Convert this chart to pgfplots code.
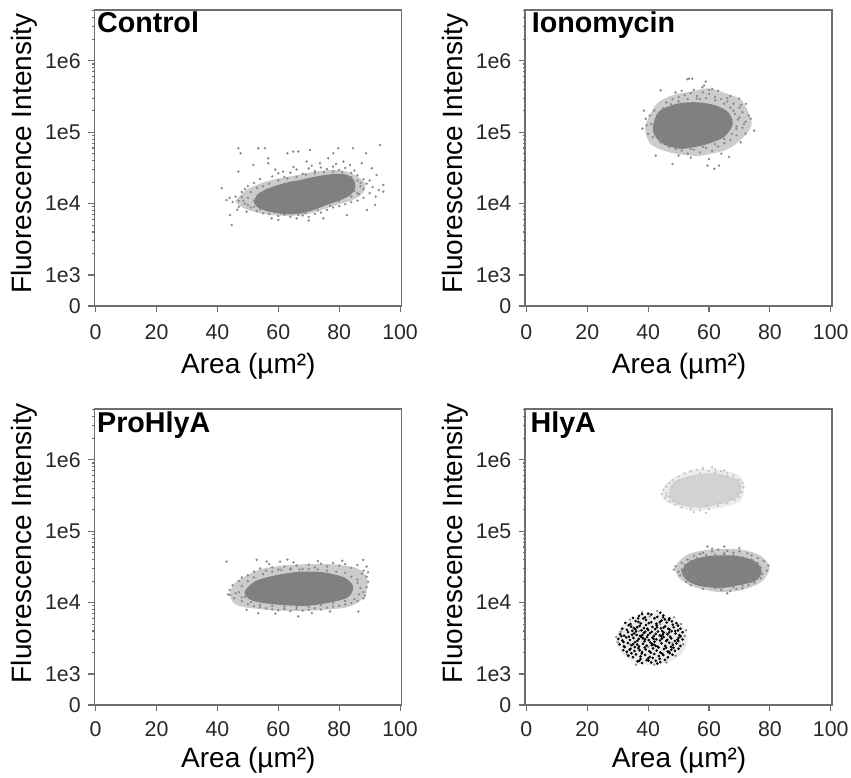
\documentclass[border=0pt]{standalone}
\usepackage{fontspec}
\setmainfont{Liberation Sans}
\usepackage{pgfplots}
\pgfplotsset{compat=1.18}

\definecolor{axisgray}{RGB}{110,110,110}
\definecolor{textgray}{RGB}{40,40,40}
\definecolor{dotgray}{RGB}{140,140,140}
\definecolor{coregray}{RGB}{128,128,128}
\definecolor{palegray}{RGB}{210,210,210}
\definecolor{paledot}{RGB}{198,198,198}

\pgfplotsset{
  mypanel/.style={
    scale only axis, width=230.25pt, height=222pt,
    xmin=-0.46, xmax=100.4,
    ymin=368, ymax=5.13e6,
    xtick={0,20,40,60,80,100},
    xticklabels={0,20,40,60,80,100},
    ytick={368,1000,10000,100000,1000000},
    yticklabels={0,1e3,1e4,1e5,1e6},
    minor ytick={2000,3000,4000,5000,6000,7000,8000,9000,
      20000,30000,40000,50000,60000,70000,80000,90000,
      200000,300000,400000,500000,600000,700000,800000,900000,
      2000000,3000000,4000000,5000000},
    tick align=outside, tick pos=left,
    major tick length=4.5pt, minor tick length=1.5pt,
    axis line style={draw=axisgray, line width=0.9pt},
    tick style={draw=axisgray, line width=0.8pt},
    tick label style={font=\fontsize{16}{18}\selectfont, text=textgray},
    yticklabel style={xshift=-2.2pt},
    label style={font=\fontsize{21}{24}\selectfont},
    xlabel={Area (µm²)},
    ylabel={Fluorescence Intensity},
  },
  myrowa/.style={
    xlabel style={at={(axis description cs:0.502,-0.2297)}, anchor=base},
    ylabel style={at={(axis description cs:-0.205,0.514)}, anchor=base},
    xticklabel style={yshift=-5.9pt},
  },
  myrowb/.style={
    xlabel style={at={(axis description cs:0.502,-0.2095)}, anchor=base},
    ylabel style={at={(axis description cs:-0.205,0.547)}, anchor=base},
    xticklabel style={yshift=-4.2pt},
  },
  myhalo/.style={draw=none, fill=#1, fill opacity=0.4, smooth},
  mycore/.style={draw=none, fill=#1, smooth},
  mydots/.style={only marks, mark=*, mark size=0.7pt, color=#1},
}
\newcommand{\paneltitle}[3]{\node[anchor=base west, inner sep=0pt,
  font=\fontsize{21.5}{24}\selectfont\bfseries, xshift=#2, yshift=#3]
  at (rel axis cs:0,1) {#1};}

\begin{document}
\begin{tikzpicture}
\path[use as bounding box] (0,0) rectangle (638.25pt,583.5pt);

% ---------------- Control
\begin{axis}[ymode=log, mypanel, myrowa, at={(70.7pt,354pt)}, anchor=south west]
\addplot[myhalo=coregray] coordinates {
(64,6700) (58,6900) (53,7500) (49,8500) (46,10500) (47.5,13000) (50,16000) (54,19000)
(59,22000) (65,24500) (71,27500) (77,29500) (82,28500) (86,24000) (88.5,19000) (88,14500)
(85,11500) (80,9800) (75,8400) (70,7200) (64,6700)};
\addplot[mydots=dotgray] coordinates {
(46.9,59500) (47.6,50600) (53.4,59500) (55.6,59500) (63.0,50600) (64.9,53500) (66.6,53500)
(70.4,56300) (78.1,50600) (79.7,59500) (84.6,59500) (88.8,50600) (93.4,66000) (51.8,34700)
(46.9,28000) (56.7,43100) (56.7,36700) (61.6,28000) (69.3,38800) (73.7,36700) (76.4,43100)
(81.4,38800) (83.6,34700) (87.4,36700) (90.7,31200) (92.3,25100) (94.5,18200) (94.5,14700)
(91.8,9600) (89.1,8100) (82.5,6900) (74.8,6200) (66.6,6900) (57.8,6200) (49.6,7700)
(44.1,6900) (41.4,16400) (43.0,11200) (44.7,5000)
(58,24000) (60,26500) (62,23500) (64,27000) (66,30000) (68,26000) (70,31000) (72,28500)
(74,32000) (76,30500) (78,33000) (80,29500) (82,31500) (84,27000) (86,25000) (88,22000)
(85,29000) (79,36000) (71,34000) (65,32500) (59,30000) (54,22000) (52,19500) (50,17500)
(51,8800) (53,7900) (55,7300) (57,7100) (60,6700) (62,7000) (64,6500) (66,6200) (68,6800)
(70,6500) (72,7200) (74,7500) (76,8200) (78,8800) (80,9200) (82,9800) (84,10500) (86,11000)
(88,12000) (60,5900) (70,5800)
(45,10500) (46,12500) (47,9000) (48,14500) (46.5,8200) (48.5,11000) (44,12000) (49,16000) (50,9500)
(86,14000) (88,16000) (89,19000) (90,14000) (91,17000) (92,12500) (90,21000) (87,19500) (93,15500)
(50,12000) (51,14500) (52,11000) (53,16500) (55,17500) (57,19000) (60,21000) (63,22500)
(66,23500) (69,25500) (72,26500) (75,27500) (78,28000) (81,27500) (84,23500) (86,21000)
(87,17500) (86.5,13500) (85,15000) (84,12500) (80,10800) (77,9300) (73,8000) (69,7300)
(65,7200) (61,7300) (57,7800) (54,8300) (52,9000) (49,10000) (48,12300) (47,11000)};
\addplot[mycore=coregray] coordinates {
(68,7300) (63,7100) (59,7400) (55.5,8000) (53,9000) (52,10500) (53,13200) (55.5,15500)
(59,17700) (63,19800) (67,21300) (71,23300) (75,25000) (79,26000) (82.5,25300) (84.8,21500)
(85.3,17000) (83.8,13300) (80.5,11200) (76,9600) (72,8200) (68,7300)};
\paneltitle{Control}{1.9pt}{-16.7pt}
\end{axis}

% ---------------- Ionomycin
\begin{axis}[ymode=log, mypanel, myrowa, at={(393.75pt,354pt)}, anchor=south west]
\addplot[myhalo=coregray] coordinates {
(56.2,46000) (47.4,51500) (40.8,68000) (39.0,112000) (40.3,165000) (43.0,255000)
(48,330000) (54.0,370000) (59.5,410000) (65,355000) (70.6,280000) (73.9,146000)
(72.8,100000) (67.3,61000) (62,51000) (56.2,46000)};
\addplot[mydots=dotgray] coordinates {
(53.4,560000) (54.5,560000) (58.4,450000) (52.9,550000) (58.9,510000) (57.8,427000)
(44.1,384000) (38.6,200000) (69.9,294000) (72.1,250000) (73.7,154000) (74.8,105000)
(70.4,72000) (66.6,45000) (59.5,34000) (61.7,30700) (63.3,34000) (48.0,36000) (42.5,47000)
(38.1,112000) (39.2,154000)
(46,260000) (48,290000) (50,310000) (52,330000) (54,350000) (56,320000) (58,360000)
(60,340000) (62,310000) (64,290000) (66,270000) (68,250000) (55,390000) (61,400000)
(57,290000) (63,380000) (49,360000) (67,320000) (70,220000) (71,190000)
(44,80000) (45,70000) (47,62000) (49,58000) (51,55000) (53,50000) (55,57000) (57,52000)
(59,60000) (61,55000) (63,63000) (65,70000) (67,78000) (69,90000) (71,115000) (72,140000)
(54,44000) (60,42000) (64,50000) (50,47000)
(40,95000) (41,130000) (40.5,170000) (42,200000) (43,150000) (41.5,85000) (39.5,125000)
(68,200000) (70,160000) (71.5,130000) (73,170000) (69,120000) (72,95000)
(42,100000) (42.5,140000) (43.5,175000) (45,215000) (47.5,245000) (50,270000) (53,290000)
(56,295000) (59,300000) (62,280000) (65,250000) (67,220000) (68.5,180000) (69.5,150000)
(69,110000) (67.5,95000) (65,80000) (62,68000) (58,62000) (54,58000) (50,60000) (46.5,65000)
(44,72000) (42.5,90000) (70.5,240000) (66,300000) (60,390000) (51,380000)};
\addplot[mycore=coregray] coordinates {
(51,58000) (45.5,66000) (42.5,85000) (41.5,115000) (43.5,195000) (49.5,250000) (56,262000)
(62,238000) (66.3,190000) (67.8,130000) (65,86000) (58.4,66000) (51,58000)};
\paneltitle{Ionomycin}{4.9pt}{-16.7pt}
\end{axis}

% ---------------- ProHlyA
\begin{axis}[ymode=log, mypanel, myrowb, at={(70.7pt,54.75pt)}, anchor=south west]
\addplot[myhalo=coregray] coordinates {
(59.5,7700) (49.6,8500) (45.5,9700) (44.1,13600) (46.3,19700) (54.0,29000) (62,33000)
(70,34500) (79.2,34000) (86,30000) (89.2,22000) (88.7,13000) (86,9900) (81.4,8400)
(70.4,7700) (59.5,7700)};
\addplot[mydots=dotgray] coordinates {
(43.0,37500) (52.9,39600) (56.2,37500) (60.6,37500) (87.9,39600) (89.0,31900) (86.3,7500)
(66.6,6400) (53.4,7100) (49.6,7900) (44.1,12800)
(50,24000) (52,27000) (54,30000) (56,28000) (58,31000) (60,29000) (62,32000) (64,30000)
(66,33000) (68,29500) (70,34000) (72,31000) (74,35000) (76,32000) (78,36000) (80,33000)
(82,34500) (84,30500) (86,33500) (88,28000) (57,34500) (65,36500) (73,38000) (81,38500) (63,40000)
(48,10500) (50,9500) (52,8900) (54,8600) (56,8300) (58,8000) (60,7800) (62,8200) (64,7600)
(66,8100) (68,7700) (70,7900) (72,8300) (74,8000) (76,8500) (78,8800) (80,9000) (82,9400)
(84,9900) (86,10500) (88,11500) (59,7000) (71,7100) (77,7500)
(44,15000) (45,17500) (46,13500) (45.5,11500) (47,20000) (48,22500) (43.5,13000)
(88,14000) (89,16500) (89.5,19500) (89,23000) (87.5,25500) (86,21000) (88.5,12500) (89.5,26500)
(47,14000) (48,17000) (49,12000) (50,20000) (52,22500) (55,25000) (58,27000) (61,28500)
(64,29000) (67,29000) (70,29500) (73,29000) (76,28000) (79,27000) (82,26000) (84,23000)
(86,19000) (87,16000) (86.5,13000) (85,11200) (82,10500) (78,9800) (74,9200) (70,8700)
(66,8700) (62,8800) (58,9000) (54,9300) (51,10200) (48,11800)};
\addplot[mycore=coregray] coordinates {
(61.6,9200) (54,10000) (50.2,11300) (49,14300) (52.5,20000) (59.5,24300) (67.1,27000)
(74.8,26500) (81.6,22500) (84.6,16800) (83,11900) (77,10000) (69.3,9000) (61.6,9200)};
\paneltitle{ProHlyA}{2pt}{-17.8pt}
\end{axis}

% ---------------- HlyA
\begin{axis}[ymode=log, mypanel, myrowb, at={(393.75pt,54.75pt)}, anchor=south west]
% light cluster
\addplot[myhalo=palegray] coordinates {
(55.1,192000) (48.5,228000) (45.6,270000) (44.5,340000) (46.1,475000) (52.9,690000)
(61.7,730000) (69.5,625000) (71.5,445000) (70.6,268000) (63.9,212000) (55.1,192000)};
\addplot[mydots=paledot] coordinates {
(44.5,330000) (45,380000) (45.5,290000) (46,420000) (47,470000) (48,520000) (50,580000)
(52,640000) (54,690000) (56,720000) (58,740000) (60,700000) (62,730000) (64,690000)
(66,650000) (68,600000) (70,520000) (71,470000) (71.3,410000) (70.8,350000) (70,300000)
(68.5,270000) (66,245000) (63,225000) (60,205000) (57,195000) (54,200000) (51,215000)
(49,235000) (47,260000) (55,185000) (59,180000) (46,310000) (58,770000) (61,780000) (65,710000)
(46,340000) (47,300000) (48,420000) (50,500000) (53,560000) (57,640000) (62,660000)
(66,590000) (69,520000) (70,430000) (69.5,340000) (67,290000) (63,245000) (59,225000)
(54,220000) (50,245000) (48,260000)};
\addplot[mycore=palegray] coordinates {
(57.3,210000) (50.5,232000) (47.6,274000) (46.8,360000) (48.7,500000) (55.1,610000)
(61.7,645000) (68.5,550000) (70.6,425000) (69.6,300000) (64.9,245000) (57.3,210000)};
% middle cluster
\addplot[myhalo=coregray] coordinates {
(62.8,14000) (55.1,16500) (50.1,22000) (49.0,32000) (52.9,47000) (60.6,55500) (70.4,55500)
(77.2,44500) (79.9,30300) (77.2,19500) (70.4,14800) (62.8,14000)};
\addplot[mydots=dotgray] coordinates {
(49,32000) (50,27000) (51,36000) (52,23000) (53,40000) (54,30000) (55,45000) (56,21000)
(57,48000) (58,50000) (59.5,61000) (60,19500) (61,52000) (62,16000) (63,55000) (64,15000)
(65,61000) (66,53000) (67,14500) (68,50000) (69,15500) (70,52000) (71,16000) (72.6,49000)
(73,17500) (74,46000) (75,19000) (76,42000) (77,22000) (78,38000) (79,28000) (79.5,33000)
(77.5,25000) (48.5,29000) (50.5,24000) (52.5,19500) (58,15500) (66,13500) (54,17500)
(61,57000) (70,58000) (65,49000)
(51,29000) (52,34000) (54,38000) (56,42000) (59,46000) (62,47000) (65,46500) (68,46000)
(71,43000) (74,40000) (76,36000) (77,31000) (77,26000) (76,22000) (74,19500) (71,17500)
(68,16500) (64,16500) (60,17000) (57,18500) (54,21000) (52,24500) (53,27000) (55,23000)};
\addplot[mycore=coregray] coordinates {
(64,15800) (57,17000) (52.8,20300) (51,27000) (53.5,37500) (60,45000) (69,45000)
(75,38000) (77.3,28000) (75,19800) (64,15800)};
% dark cluster
\addplot[draw=none, fill=coregray, fill opacity=0.16, smooth] coordinates {
(41,1330) (36.5,1420) (32.5,1750) (30.2,2300) (29.5,3000) (30.5,4200) (33,5400) (36.5,6500)
(41,7200) (45.5,6600) (49.5,5500) (52,4300) (53,3100) (52,2200) (49.5,1700) (45.5,1420) (41,1330)};
\addplot[mydots=dotgray] coordinates {
(30,2800) (52,3400) (31,3900) (51.5,2600) (33,1900) (49,1800) (36,1350) (46,1450) (52.5,4100)
(29.5,3300) (50.8,5000) (34,5800) (48.5,6200) (42,1350) (38,7300) (43,7600) (40.5,6400)
(35,3300) (46,3700) (40,2400) (44,5000) (37,4000) (48,2700) (34,2600) (42,5900)};
\addplot[only marks, mark=*, mark size=0.78pt, color=black] coordinates {
(36.5,1500) (38,1420) (39.5,1560) (41,1450) (42.5,1530) (44,1470) (45.5,1580) (37.5,1620) (43,1400) (40,1650)
(33.5,1800) (35,1720) (36,1880) (37.5,1760) (39,1850) (40.5,1730) (42,1900) (43.5,1780) (45,1840)
(46.5,1710) (48,1860) (34.5,1950) (41.5,1680)
(31.8,2150) (33,2050) (34.2,2250) (35.5,2100) (36.8,2300) (38,2020) (39.2,2200) (40.4,2080)
(41.6,2280) (42.8,2130) (44,2000) (45.2,2240) (46.4,2060) (47.6,2190) (48.8,2110) (50,2260)
(37.2,2150) (43.4,2350)
(30.6,2600) (32,2450) (33.3,2720) (34.6,2520) (35.8,2800) (37,2430) (38.3,2650) (39.5,2500)
(40.7,2760) (42,2560) (43.2,2420) (44.4,2690) (45.6,2480) (46.9,2740) (48.1,2550) (49.3,2680)
(50.6,2470) (36.4,2580) (41.3,2640) (47.5,2400)
(30.2,3100) (31.5,2950) (32.8,3250) (34,3000) (35.2,3180) (36.5,2920) (37.7,3300) (39,3060)
(40.2,2980) (41.4,3220) (42.7,3050) (43.9,2940) (45.1,3280) (46.3,3010) (47.6,3150) (48.8,2900)
(50,3200) (51.3,3050) (38.3,3150) (44.5,3120)
(30.8,3600) (32.1,3450) (33.4,3850) (34.7,3550) (36,3950) (37.3,3420) (38.6,3750) (39.9,3500)
(41.2,3900) (42.5,3650) (43.8,3480) (45.1,3800) (46.4,3580) (47.7,3980) (49,3700) (50.3,3500)
(51.3,3850) (35.4,3700) (44.6,4000)
(31.5,4300) (33,4150) (34.4,4600) (35.8,4250) (37.2,4700) (38.6,4400) (40,4120) (41.4,4550)
(42.8,4800) (44.2,4350) (45.6,4650) (47,4200) (48.4,4500) (49.8,4750) (50.6,4300) (39.3,4850)
(32.5,5200) (34.2,5000) (35.9,5500) (37.6,5100) (39.3,5700) (41,5300) (42.7,5050) (44.4,5600)
(46.1,5250) (47.8,5450) (49.3,5150) (45.5,5800)
(35,6100) (37,6500) (39,6200) (41,6800) (43,6300) (45,6600) (47,6000) (40,7000) (44,7200) (38,6900)
(32.3,2380) (35.1,2640) (38.8,2870) (41.9,3420) (44.8,3560) (47.2,3330) (49.6,3020) (33.7,3330)
(36.2,3520) (39.6,3280) (42.1,2830) (45.9,2880) (48.3,2330) (37.9,1940) (40.9,1990) (44.6,1930)
(47.1,1960) (34.8,4020) (37.8,4080) (40.6,3720) (43.2,3930) (46.9,3820) (49.8,4080) (33.6,4820)
(36.4,4520) (39.7,4300) (42.3,4240) (45.1,4460) (48.1,4900) (36.8,5350) (40.2,5150) (43.8,5350)
(46.8,5700) (38.4,5980) (42.1,6050) (44.9,6200) (35.6,2380) (38.9,2350) (42.5,2460) (45.9,2330)
(31.2,3380) (50.7,3350) (31.9,2800) (49.9,2890) (40.1,1540) (43.8,1630) (37.1,1530) (46.8,2050)
(33.9,2180) (41.2,2530) (38.1,3500) (44.3,3350) (36.9,3100) (41.8,3100) (46.6,4300) (35.3,4400)
(48.9,4000) (39.0,3900) (42.9,4500) (36.7,6000)};
\paneltitle{HlyA}{4pt}{-17.8pt}
\end{axis}
\end{tikzpicture}
\end{document}
